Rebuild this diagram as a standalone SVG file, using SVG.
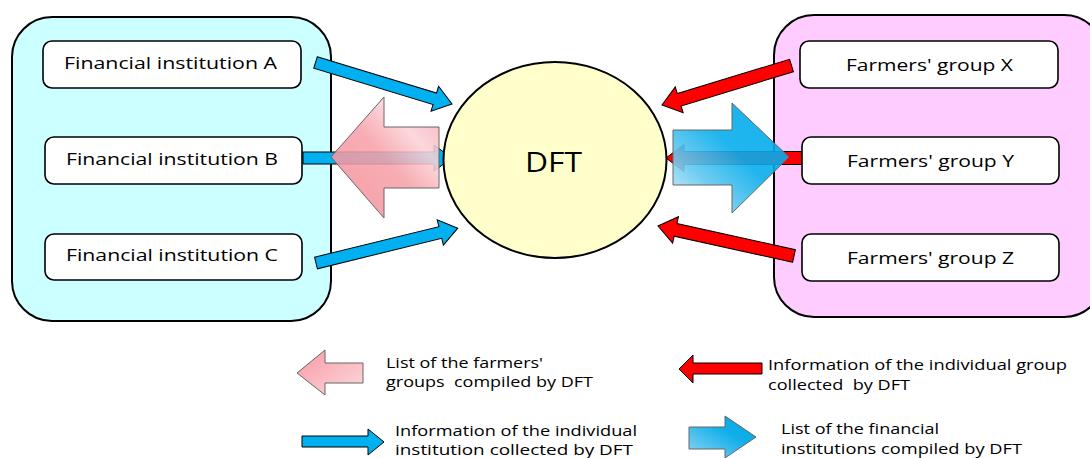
<svg xmlns="http://www.w3.org/2000/svg" width="1090" height="458" viewBox="0 0 1090 458">
  <defs>
    <linearGradient id="pinkFill" x1="0" y1="1" x2="1" y2="0">
      <stop offset="0" stop-color="#f58d98"/>
      <stop offset="0.5" stop-color="#f6a2aa"/>
      <stop offset="0.72" stop-color="#fbd3d7"/>
      <stop offset="1" stop-color="#f5a3ab"/>
    </linearGradient>
    <linearGradient id="blueFill" x1="0" y1="1" x2="1" y2="0">
      <stop offset="0" stop-color="#d8f1fb"/>
      <stop offset="0.3" stop-color="#5cc6ef"/>
      <stop offset="0.55" stop-color="#08adec"/>
      <stop offset="1" stop-color="#00a9e8"/>
    </linearGradient>
    <linearGradient id="pinkKey" x1="0" y1="0" x2="1" y2="1">
      <stop offset="0" stop-color="#f79aa4"/>
      <stop offset="1" stop-color="#fcd9dd"/>
    </linearGradient>
    <linearGradient id="blueKey" x1="0" y1="1" x2="1" y2="0">
      <stop offset="0" stop-color="#8fd6f4"/>
      <stop offset="0.6" stop-color="#10aee9"/>
      <stop offset="1" stop-color="#00a9e8"/>
    </linearGradient>
  </defs>
  <style>
    .panel { stroke: #000; stroke-width: 2; }
    .box { fill: #fff; stroke: #000; stroke-width: 1.6; }
    .label { font-family: "Open Sans", "Liberation Sans", sans-serif; font-size: 16.5px; fill: #000; }
    .key { font-family: "Open Sans", "Liberation Sans", sans-serif; font-size: 14px; fill: #000; }
    .blue { fill: #00b0f0; stroke: #000; stroke-width: 1; }
    .red { fill: #ff0000; stroke: #000; stroke-width: 1; }
    .big { stroke: #666; stroke-width: 1; }
  </style>

  <!-- panels -->
  <rect id="financial-panel" class="panel" x="12" y="17" width="319" height="304" rx="40" fill="#ccffff"/>
  <rect id="farmers-panel" class="panel" x="774" y="15" width="330" height="302" rx="40" fill="#ffccff"/>

  <!-- connectors -->
  <g id="connectors">
    <!-- institutions to DFT -->
    <polygon class="blue" transform="translate(315.5,62.5) rotate(16.9)" points="0,-6 124.7,-6 124.7,-13 142.7,0 124.7,13 124.7,6 0,6"/>
    <polygon class="blue" transform="translate(303,158)" points="0,-6 131,-6 131,-13 149,0 131,13 131,6 0,6"/>
    <polygon class="blue" transform="translate(316,263) rotate(-13.8)" points="0,-6 128,-6 128,-13 146,0 128,13 128,6 0,6"/>
    <!-- groups to DFT -->
    <polygon class="red" transform="translate(791.5,65.5) rotate(163.04)" points="0,-6.5 117.4,-6.5 117.4,-13.5 135.4,0 117.4,13.5 117.4,6.5 0,6.5"/>
    <polygon class="red" transform="translate(802,158) rotate(180)" points="0,-6.5 118,-6.5 118,-13.5 136,0 118,13.5 118,6.5 0,6.5"/>
    <polygon class="red" transform="translate(794,256) rotate(-167.56)" points="0,-6.5 121.3,-6.5 121.3,-13.5 139.3,0 121.3,13.5 121.3,6.5 0,6.5"/>
    <!-- compiled lists from DFT -->
    <polygon class="big" fill="url(#pinkFill)" fill-opacity="0.88" points="331,157 384,97 384,127 439,127 439,188 384,188 384,218"/>
    <polygon class="big" fill="url(#blueFill)" fill-opacity="0.9" points="673,130 732,130 732,103 789,157 732,213 732,185 673,185"/>
  </g>

  <!-- financial institutions -->
  <g id="fin-a">
    <rect class="box" x="43" y="41" width="258" height="47" rx="9"/>
    <text class="label" x="64" y="69" textLength="213" lengthAdjust="spacingAndGlyphs">Financial institution A</text>
  </g>
  <g id="fin-b">
    <rect class="box" x="45" y="137" width="257" height="47" rx="9"/>
    <text class="label" x="66" y="165" textLength="212" lengthAdjust="spacingAndGlyphs">Financial institution B</text>
  </g>
  <g id="fin-c">
    <rect class="box" x="45" y="234" width="257" height="46" rx="9"/>
    <text class="label" x="66" y="261" textLength="212" lengthAdjust="spacingAndGlyphs">Financial institution C</text>
  </g>

  <!-- DFT -->
  <g id="dft">
    <ellipse cx="555" cy="160" rx="111.5" ry="98" fill="#ffffcc" stroke="#000" stroke-width="2"/>
    <text x="525" y="172" font-family="'Open Sans', 'Liberation Sans', sans-serif" font-size="28" fill="#000" textLength="57" lengthAdjust="spacingAndGlyphs">DFT</text>
  </g>

  <!-- farmers' groups -->
  <g id="group-x">
    <rect class="box" x="800" y="41" width="258" height="47" rx="9"/>
    <text class="label" x="846" y="71" textLength="167" lengthAdjust="spacingAndGlyphs">Farmers' group X</text>
  </g>
  <g id="group-y">
    <rect class="box" x="802" y="137" width="257" height="47" rx="9"/>
    <text class="label" x="847" y="167" textLength="167" lengthAdjust="spacingAndGlyphs">Farmers' group Y</text>
  </g>
  <g id="group-z">
    <rect class="box" x="802" y="234" width="257" height="47" rx="9"/>
    <text class="label" x="847" y="264" textLength="167" lengthAdjust="spacingAndGlyphs">Farmers' group Z</text>
  </g>

  <!-- legend -->
  <g id="legend">
    <polygon class="big" fill="url(#pinkKey)" points="297,373 325,350 325,363 363,363 363,383 325,383 325,395"/>
    <text class="key" x="386" y="368" textLength="157" lengthAdjust="spacingAndGlyphs">List of the farmers'</text>
    <text class="key" x="386" y="387" xml:space="preserve" textLength="207" lengthAdjust="spacingAndGlyphs">groups  compiled by DFT</text>

    <polygon class="red" points="679,369 693,355 693,363 762,363 762,374 693,374 693,383"/>
    <text class="key" x="768" y="370" textLength="299" lengthAdjust="spacingAndGlyphs">Information of the individual group</text>
    <text class="key" x="768" y="390" xml:space="preserve" textLength="142" lengthAdjust="spacingAndGlyphs">collected  by DFT</text>

    <polygon class="blue" points="302,436 368,436 368,429 384,442 368,455 368,447 302,447"/>
    <text class="key" x="395" y="436" textLength="242" lengthAdjust="spacingAndGlyphs">Information of the individual</text>
    <text class="key" x="395" y="455" textLength="238" lengthAdjust="spacingAndGlyphs">institution collected by DFT</text>

    <polygon class="big" fill="url(#blueKey)" points="689,427 725,427 725,416 756,437 725,458 725,449 689,449"/>
    <text class="key" x="781" y="434" textLength="158" lengthAdjust="spacingAndGlyphs">List of the financial</text>
    <text class="key" x="781" y="454" textLength="241" lengthAdjust="spacingAndGlyphs">institutions compiled by DFT</text>
  </g>
</svg>
